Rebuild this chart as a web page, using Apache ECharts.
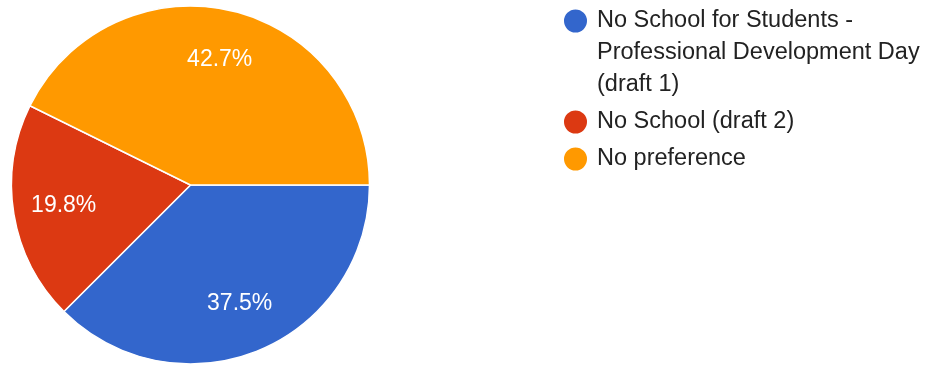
<!DOCTYPE html>
<html><head><meta charset="utf-8">
<script src="https://cdn.jsdelivr.net/npm/echarts@6/dist/echarts.min.js"></script>
<style>html,body{margin:0;padding:0;background:#fff}#c{width:934px;height:366px}</style>
</head><body><div id="c"></div>
<script>
const categories = ['No School for Students - Professional Development Day (draft 1)', 'No School (draft 2)', 'No preference'];
const legendLabels = ['\n\nNo School for Students -\nProfessional Development Day\n(draft 1)', 'No School (draft 2)', 'No preference'];
const values = [37.5, 19.8, 42.7];
const colors = ['#3366cc', '#dc3912', '#ff9900'];

const data = categories.map((n, i) => ({ name: n, value: values[i], itemStyle: { color: colors[i] } }));
const chart = echarts.init(document.getElementById('c'));
chart.setOption({
  animation: false,
  legend: {
    orient: 'vertical',
    left: 557,
    top: -64,
    icon: 'circle',
    itemWidth: 25,
    itemHeight: 25,
    itemGap: 5,
    selectedMode: false,
    data: categories,
    formatter: function (name) { return legendLabels[categories.indexOf(name)]; },
    textStyle: { fontFamily: 'Liberation Sans', fontSize: 23.5, color: '#222222', lineHeight: 32, padding: [0, 0, 0, 4] }
  },
  series: [
    {
      type: 'pie',
      center: [190.5, 185],
      radius: [0, 179],
      startAngle: 0,
      clockwise: true,
      silent: true,
      label: { show: false },
      labelLine: { show: false },
      itemStyle: { borderColor: '#ffffff', borderWidth: 1.5 },
      data: data
    },
    {
      type: 'pie',
      center: [190.5, 185],
      radius: [72, 179],
      startAngle: 0,
      clockwise: true,
      silent: true,
      percentPrecision: 1,
      itemStyle: { color: 'transparent', borderWidth: 0 },
      label: { show: true, position: 'inside', formatter: '{d}%', color: '#ffffff', fontFamily: 'Liberation Sans', fontSize: 23 },
      labelLine: { show: false },
      data: categories.map((n, i) => ({ name: n, value: values[i] }))
    }
  ]
});
</script></body></html>
